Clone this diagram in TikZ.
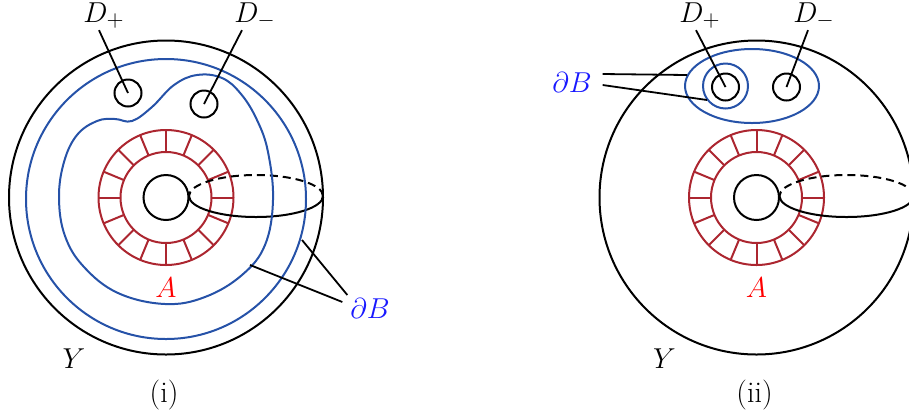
\documentclass[tikz,border=0pt]{standalone}
\usetikzlibrary{positioning}
\definecolor{bndblue}{RGB}{38,82,168}
\definecolor{ringred}{RGB}{172,38,48}
\definecolor{lblblue}{RGB}{25,25,255}
\begin{document}
\begin{tikzpicture}[x=0.5pt,y=-0.5pt,line width=1pt,font=\fontsize{15}{18}\selectfont,
  bnd/.style={bndblue,line width=1pt},
  ring/.style={ringred,line width=1pt},
  leader/.style={line width=0.9pt},
  lab/.style={anchor=base,inner sep=0pt}]
\useasboundingbox (0,0) rectangle (909,419);
\clip (0,0) rectangle (909,419);
% common parts: Y, hole, annulus A, handle
\foreach \cx/\tag in {166/i,756.5/ii}{
  \coordinate (O\tag) at (\cx,197.5);
  \draw (O\tag) circle (157);
  \draw (O\tag) circle (22.5);
  \draw[ring] (O\tag) circle (45.5) (O\tag) circle (67.5);
  \foreach \a in {0,22.5,...,337.5}
    \draw[ring] (O\tag) ++(\a:45.5) -- ++(\a:22);
  \coordinate (E\tag) at (\cx+90,196);
  \draw (E\tag) ++(-67,0) arc[start angle=180,end angle=0,x radius=67,y radius=21];
  \draw[dash pattern=on 4pt off 2.5pt] (E\tag) ++(67,0) arc[start angle=0,end angle=-180,x radius=67,y radius=21];
  \node[lab,text=red] (A\tag) at (\cx,297) {$A$};
  \node[lab] (Y\tag) at (\cx-92,368) {$Y$};
  \node[lab] (cap\tag) at (\cx-2,402) {(\tag)};
}
% (i)
\draw[bnd] (166,199) circle (140);
\draw[bnd] plot[smooth cycle,tension=0.65] coordinates {(59,198) (64,162) (77,135) (97,121) (115,119) (132,121) (152,107) (174,85) (197,75) (222,78) (241,94) (257,120) (268,152) (273,200) (265,245) (242,275) (205,297) (165,304) (118,293) (84,267) (65,236)};
\coordinate (Dp1) at (128,93); \draw (Dp1) circle (13.5);
\coordinate (Dm1) at (204,104); \draw (Dm1) circle (13.5);
\node[lab] (Dp1lab) at (104,22) {$D_+$};
\node[lab] (Dm1lab) at (255,22) {$D_-$};
\draw[leader] ([xshift=-2.5pt,yshift=-0.5pt]Dp1lab.south) -- (Dp1);
\draw[leader] ([xshift=-6.5pt,yshift=-0.5pt]Dm1lab.south) -- (Dm1);
\node[lab,text=lblblue] (dB1) at (370,318) {$\partial B$};
\coordinate (b1in) at (250,265);
\coordinate (b1out) at (302,240);
\draw[leader] (b1in) -- ([xshift=-3.5pt,yshift=-2.5pt]dB1.north west);
\draw[leader] (b1out) -- ([xshift=-1pt,yshift=1pt]dB1.north west);
% (ii)
\coordinate (Dp2) at (725.5,87); \draw (Dp2) circle (13.5);
\coordinate (Dm2) at (786.5,87); \draw (Dm2) circle (13.5);
\draw[bnd] (752,86) ellipse [x radius=67,y radius=37];
\draw[bnd] (725.5,86) circle (22.5);
\node[lab] (Dp2lab) at (700,22) {$D_+$};
\node[lab] (Dm2lab) at (814,22) {$D_-$};
\draw[leader] ([xshift=-2pt,yshift=-0.5pt]Dp2lab.south) -- (Dp2);
\draw[leader] ([xshift=-3pt,yshift=-0.5pt]Dm2lab.south) -- (Dm2);
\node[lab,text=lblblue] (dB2) at (572,92) {$\partial B$};
\coordinate (b2big) at (687,75);
\coordinate (b2small) at (707,100);
\draw[leader] ([xshift=5pt,yshift=4pt]dB2.east) -- (b2big);
\draw[leader] ([xshift=5pt,yshift=-1.5pt]dB2.east) -- (b2small);
\end{tikzpicture}
\end{document}
